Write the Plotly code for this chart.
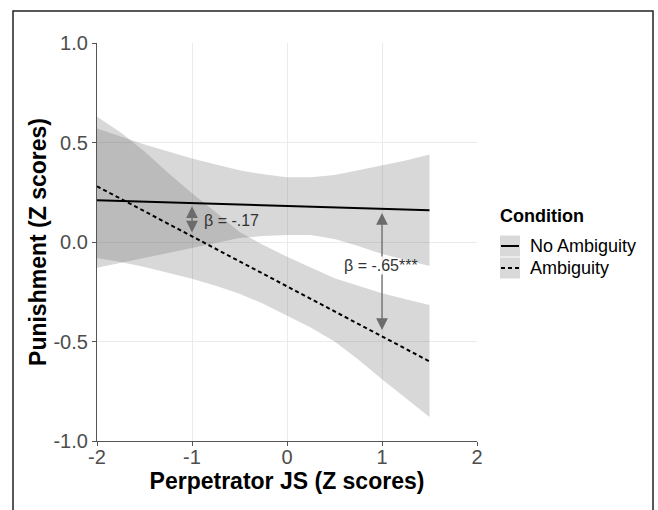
import plotly.graph_objects as go

# ---------------- data ----------------
x_grid = [-2, -1.75, -1.5, -1.25, -1, -0.75, -0.5, -0.25, 0, 0.25, 0.5, 0.75, 1, 1.25, 1.5]
noamb_upper = [0.57, 0.53, 0.49, 0.455, 0.42, 0.39, 0.36, 0.34, 0.325, 0.325, 0.337, 0.36, 0.385, 0.41, 0.44]
noamb_lower = [-0.13, -0.105, -0.08, -0.055, -0.03, -0.005, 0.02, 0.03, 0.035, 0.035, 0.015, -0.02, -0.06, -0.09, -0.12]
amb_upper = [0.63, 0.55, 0.455, 0.347, 0.245, 0.15, 0.05, -0.015, -0.074, -0.13, -0.182, -0.22, -0.258, -0.288, -0.317]
amb_lower = [-0.08, -0.10, -0.125, -0.155, -0.185, -0.22, -0.26, -0.31, -0.37, -0.43, -0.50, -0.59, -0.69, -0.785, -0.88]

line_x = [-2, 1.5]
noamb_fit = [0.21, 0.16]
amb_fit = [0.28, -0.60]

conditions = ["No Ambiguity", "Ambiguity"]
x_ticks = [-2, -1, 0, 1, 2]
x_tick_labels = ["-2", "-1", "0", "1", "2"]
y_ticks = [-1.0, -0.5, 0.0, 0.5, 1.0]
y_tick_labels = ["-1.0", "-0.5", "0.0", "0.5", "1.0"]

# simple-slope annotations: x, arrow top, arrow bottom
beta1_label = "β = -.17"
beta1_arrow = [-1, 0.18, 0.04]
beta2_label = "β = -.65***"
beta2_arrow = [1, 0.146, -0.08, -0.156, -0.442]

# ---------------- figure ----------------
W, H = 658, 510
L, R, T, B = 97, 477, 43, 441
FONT = "Liberation Sans, Arial, Helvetica, sans-serif"
RIBBON = "rgba(100,100,100,0.25)"

fig = go.Figure()

for lo, up in [(noamb_lower, noamb_upper), (amb_lower, amb_upper)]:
    fig.add_trace(go.Scatter(x=x_grid, y=lo, mode="lines", line=dict(width=0),
                             showlegend=False, hoverinfo="skip"))
    fig.add_trace(go.Scatter(x=x_grid, y=up, mode="lines", line=dict(width=0),
                             fill="tonexty", fillcolor=RIBBON,
                             showlegend=False, hoverinfo="skip"))

fig.add_trace(go.Scatter(x=line_x, y=noamb_fit, mode="lines", name=conditions[0],
                         line=dict(color="black", width=2), showlegend=False))
fig.add_trace(go.Scatter(x=line_x, y=amb_fit, mode="lines", name=conditions[1],
                         line=dict(color="black", width=2, dash="4px,3px"), showlegend=False))

def px_x(p):
    return (p - L) / (R - L)

def px_y(p):
    return (B - p) / (B - T)

ARROW = "#6b6b6b"
annotations = []
# beta 1 double arrow
annotations.append(dict(x=beta1_arrow[0], y=beta1_arrow[1], ax=beta1_arrow[0], ay=beta1_arrow[2],
                        xref="x", yref="y", axref="x", ayref="y", text="", showarrow=True,
                        arrowhead=2, startarrowhead=2, arrowside="end+start", arrowsize=1.8,
                        startarrowsize=1.8, arrowwidth=1.3, arrowcolor=ARROW, standoff=0, startstandoff=0))
# beta 2: two segments around the label
annotations.append(dict(x=beta2_arrow[0], y=beta2_arrow[1], ax=beta2_arrow[0], ay=beta2_arrow[2],
                        xref="x", yref="y", axref="x", ayref="y", text="", showarrow=True,
                        arrowhead=2, arrowsize=1.8, arrowwidth=1.3, arrowcolor=ARROW, standoff=0))
annotations.append(dict(x=beta2_arrow[0], y=beta2_arrow[4], ax=beta2_arrow[0], ay=beta2_arrow[3],
                        xref="x", yref="y", axref="x", ayref="y", text="", showarrow=True,
                        arrowhead=2, arrowsize=1.8, arrowwidth=1.3, arrowcolor=ARROW, standoff=0))
annotations.append(dict(x=-0.9, y=0.106, xref="x", yref="y", text=beta1_label, showarrow=False,
                        xanchor="left", yanchor="middle", font=dict(family=FONT, size=16, color="#333333")))
annotations.append(dict(x=0.99, y=-0.12, xref="x", yref="y", text=beta2_label, showarrow=False,
                        xanchor="center", yanchor="middle", font=dict(family=FONT, size=16, color="#333333")))

# manual legend (ggplot style keys)
annotations.append(dict(x=px_x(498), y=px_y(216), xref="paper", yref="paper", text="<b>Condition</b>",
                        showarrow=False, xanchor="left", yanchor="middle",
                        font=dict(family=FONT, size=18, color="black")))
for i, name in enumerate(conditions):
    cy = 246 + i * 22
    annotations.append(dict(x=px_x(528), y=px_y(cy), xref="paper", yref="paper", text=name,
                            showarrow=False, xanchor="left", yanchor="middle",
                            font=dict(family=FONT, size=18, color="black")))

shapes = []
for i in range(2):
    cy = 246 + i * 22
    shapes.append(dict(type="rect", xref="paper", yref="paper",
                       x0=px_x(500), x1=px_x(520), y0=px_y(cy - 10.5), y1=px_y(cy + 10.5),
                       fillcolor="#d9d9d9", line=dict(width=0), layer="below"))
    shapes.append(dict(type="line", xref="paper", yref="paper",
                       x0=px_x(501), x1=px_x(519), y0=px_y(cy), y1=px_y(cy),
                       line=dict(color="black", width=2, dash="solid" if i == 0 else "4px,3px")))
# outer frame
shapes.append(dict(type="rect", xref="paper", yref="paper",
                   x0=px_x(13), x1=px_x(653), y0=px_y(525), y1=px_y(11),
                   line=dict(color="#222222", width=1.5), fillcolor="rgba(0,0,0,0)"))

axis_common = dict(showline=True, linecolor="#555555", linewidth=1.2, ticks="outside", ticklen=4,
                   tickcolor="#555555", tickwidth=1.2, showgrid=True, gridcolor="#ebebeb", gridwidth=1,
                   zeroline=False, tickfont=dict(family=FONT, size=20, color="#4d4d4d"))

fig.update_layout(
    width=W, height=H,
    margin=dict(l=L, r=W - R, t=T, b=H - B, autoexpand=False),
    paper_bgcolor="white", plot_bgcolor="white",
    font=dict(family=FONT),
    xaxis=dict(range=[-2, 2], tickvals=x_ticks, ticktext=x_tick_labels, ticklabelstandoff=-6,
               title=dict(text="<b>Perpetrator JS (Z scores)</b>", standoff=2,
                          font=dict(family=FONT, size=23, color="black")), **axis_common),
    yaxis=dict(range=[-1, 1], tickvals=y_ticks, ticktext=y_tick_labels,
               title=dict(text="<b>Punishment (Z scores)</b>", standoff=0,
                          font=dict(family=FONT, size=23, color="black")), **axis_common),
    annotations=annotations, shapes=shapes, showlegend=False,
)

fig.write_html("out.html", config={"displayModeBar": False},
               post_script="document.body.style.margin='0px';")
